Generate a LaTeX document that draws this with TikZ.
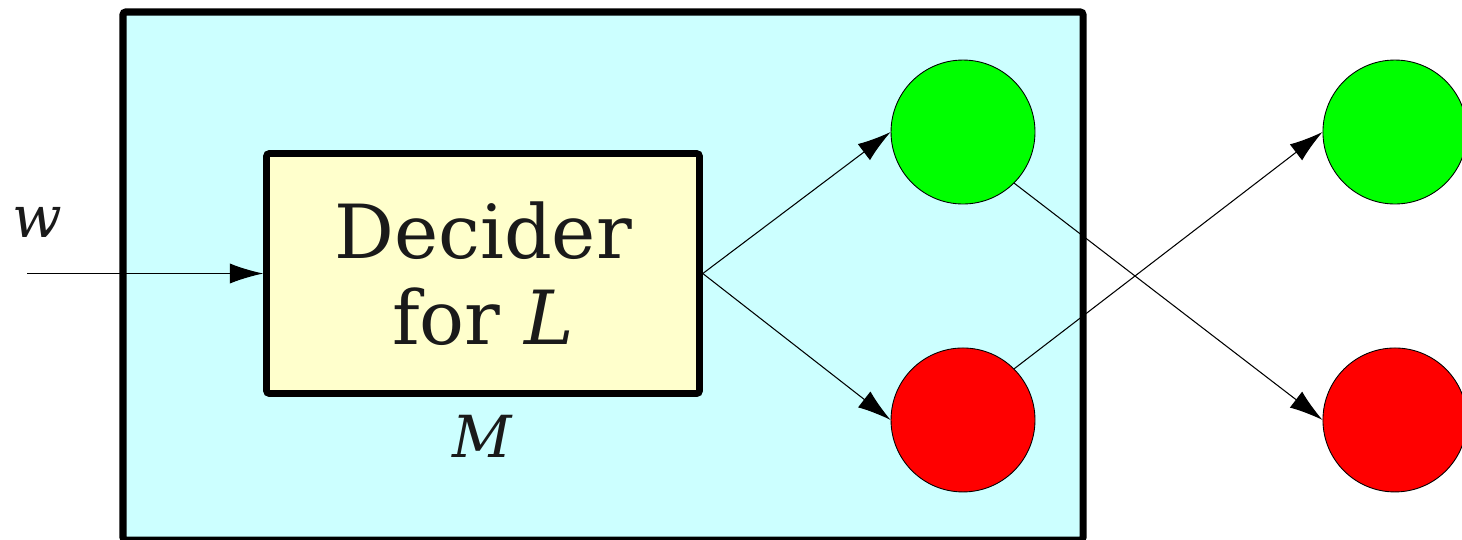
\documentclass[tikz,border=0pt]{standalone}
\usepackage{fontspec}
\setmainfont{DejaVu Serif}
\usetikzlibrary{positioning, arrows.meta}

\definecolor{boxcyan}{RGB}{204,255,255}
\definecolor{boxyellow}{RGB}{255,255,204}
\definecolor{accgreen}{RGB}{0,255,0}
\definecolor{rejred}{RGB}{255,0,0}
\definecolor{inkgray}{RGB}{26,26,26}

\begin{document}
\begin{tikzpicture}[x=0.02cm, y=-0.02cm, node distance=5.76cm, on grid,
    >={Latex[length=19pt, width=11.5pt]},
    state/.style={circle, draw, line width=0.5pt, minimum size=2.88cm, inner sep=0pt},
    acc/.style={state, fill=accgreen},
    rej/.style={state, fill=rejred},
    lbl/.style={text=inkgray, font=\fontsize{33}{40}\selectfont}]
    \useasboundingbox (0,0) rectangle (1462,539);
    \draw[line width=4pt, rounded corners=1.5pt, fill=boxcyan] (123,12) rectangle (1083,540);

    \node[draw, line width=3.8pt, rounded corners=1.5pt, fill=boxyellow, minimum width=8.66cm, minimum height=4.8cm,
          align=center, text=inkgray, font=\fontsize{42.5}{48.8}\selectfont] (dec) at (483,273.5) {Decider\\for \textit{L}};
    \node[lbl] (M) at (483,436) {\textit{M}};
    \node[lbl] (w) at (37,222) {\textit{w}};
    \coordinate (win) at (27,273.5);

    \node[acc] (a1) at (963,132) {};
    \node[rej] (r1) [below=of a1] {};
    \node[acc] (a2) [right=8.64cm of a1] {};
    \node[rej] (r2) [below=of a2] {};

    \path[->, line width=0.6pt]
    (win) edge (dec.west)
    (dec.east) edge (a1.west)
    (dec.east) edge (r1.west)
    (a1.-45) edge (r2.west)
    (r1.45) edge (a2.west);
\end{tikzpicture}
\end{document}
